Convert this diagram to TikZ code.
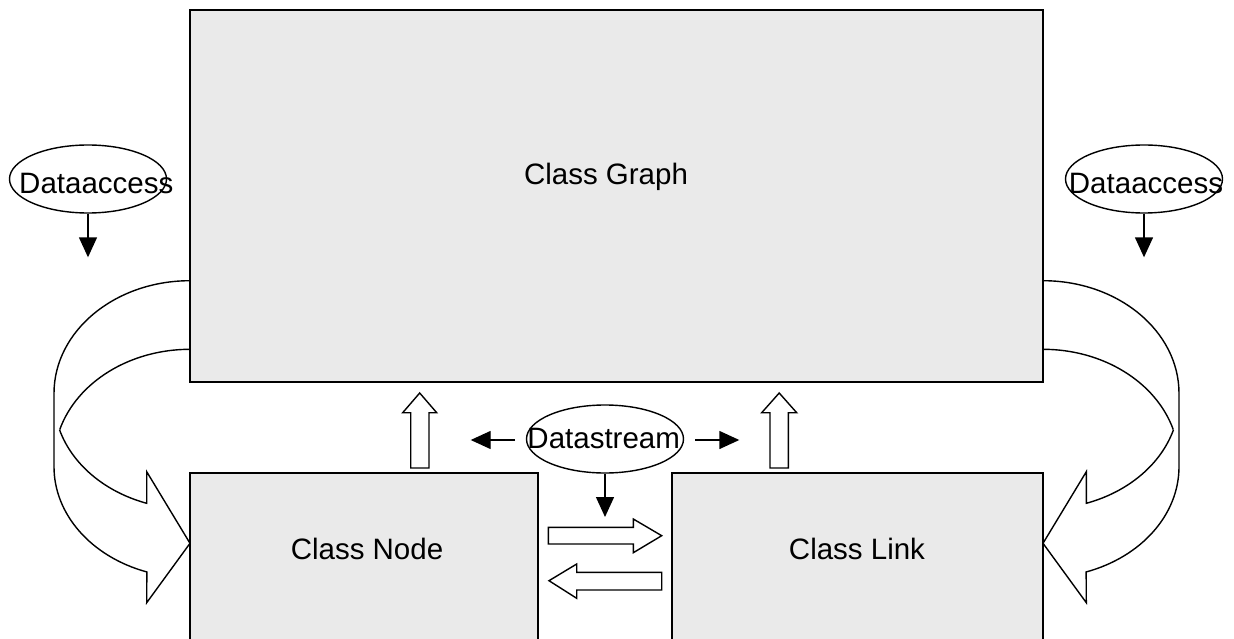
\documentclass[tikz,border=0pt]{standalone}
\usepackage{fontspec}
\setmainfont{Liberation Sans}
\usetikzlibrary{shapes.geometric,arrows.meta}
\tikzset{
  box/.style={draw=black, line width=1.7pt, fill=boxgray, inner sep=0pt},
  lbl/.style={anchor=base, inner sep=0pt, font=\fontsize{29.5}{35}\selectfont},
  oval/.style={draw, ellipse, line width=1.4pt, inner sep=0pt},
  ptr/.style={line width=1.4pt, -{Triangle[length=20pt,width=18pt]}},
  hollow/.style={draw, line width=1.4pt, fill=white, line join=miter},
  curv/.style={draw, line width=1.4pt, line join=miter}
}
\definecolor{boxgray}{HTML}{EAEAEA}
\begin{document}
\begin{tikzpicture}[x=1pt,y=-1pt]
\useasboundingbox (0,0) rectangle (1234,639);
\clip (0,0) rectangle (1234,639);
\fill[white] (0,0) rectangle (1234,639);

% left curved arrow
\draw[curv] (190,280.7) arc[start angle=-90, end angle=-180, x radius=136, y radius=112.7]
  -- (54,466.7) arc[start angle=180, end angle=108.5, x radius=136, y radius=111]
  -- (146.7,602.7) -- (190,543.3) -- (146.7,471.7) -- (146.7,503.3)
  arc[start angle=108.5, end angle=163.3, x radius=136, y radius=111];
\draw[curv] (190,349.3) arc[start angle=-90, end angle=-163.3, x radius=136, y radius=112.7];

% right curved arrow
\draw[curv] (1043,280.7) arc[start angle=-90, end angle=0, x radius=136, y radius=112.7]
  -- (1179,466.7) arc[start angle=0, end angle=71.5, x radius=136, y radius=111]
  -- (1086.3,602.7) -- (1043,543.3) -- (1086.3,471.7) -- (1086.3,503.3)
  arc[start angle=71.5, end angle=16.7, x radius=136, y radius=111];
\draw[curv] (1043,349.3) arc[start angle=-90, end angle=-16.7, x radius=136, y radius=112.7];

% boxes
\node[box, minimum width=853pt, minimum height=372pt] (g) at (616.5,196) {};
\node[box, minimum width=348pt, minimum height=180pt] (n) at (364,563) {};
\node[box, minimum width=371pt, minimum height=180pt] (l) at (857.5,563) {};
\node[lbl] (gt) at (606,185) {Class Graph};
\node[lbl] (nt) at (367,559) {Class Node};
\node[lbl] (lt) at (857,559) {Class Link};

% hollow up arrows
\draw[hollow] (419.7,393) -- (436.7,412.7) -- (429,412.7) -- (429,468) -- (410.7,468) -- (410.7,412.7) -- (402.7,412.7) -- cycle;
\draw[hollow] (779.2,393) -- (796.7,412.7) -- (788.3,412.7) -- (788.3,468) -- (770,468) -- (770,412.7) -- (761.7,412.7) -- cycle;

% hollow horizontal arrows
\draw[hollow] (548.3,527.3) -- (633.3,527.3) -- (633.3,519) -- (661.7,535.7) -- (633.3,552.7) -- (633.3,544) -- (548.3,544) -- cycle;
\draw[hollow] (661.7,572.3) -- (576.7,572.3) -- (576.7,564) -- (549,580.7) -- (576.7,598.3) -- (576.7,590) -- (661.7,590) -- cycle;

% Datastream
\node[oval, minimum width=157pt, minimum height=68pt] (ds) at (605,439) {};
\node[lbl] (dst) at (603.7,448.3) {Datastream};
\coordinate (dsl1) at (515,440);
\coordinate (dsl2) at (470.7,440);
\coordinate (dsr1) at (695,440);
\coordinate (dsr2) at (739.3,440);
\coordinate (dsd) at (605,517);
\draw[ptr] (dsl1) -- (dsl2);
\draw[ptr] (dsr1) -- (dsr2);
\draw[ptr] (ds.south) -- (dsd);

% Dataaccess
\node[oval, minimum width=157pt, minimum height=68pt] (da1) at (88,179) {};
\node[lbl] (da1t) at (96.3,193.3) {Dataaccess};
\coordinate (da1e) at (88,257.3);
\draw[ptr] (da1.south) -- (da1e);
\node[oval, minimum width=157pt, minimum height=68pt] (da2) at (1144,179) {};
\node[lbl] (da2t) at (1146,193.3) {Dataaccess};
\coordinate (da2e) at (1144,257.3);
\draw[ptr] (da2.south) -- (da2e);
\end{tikzpicture}
\end{document}
